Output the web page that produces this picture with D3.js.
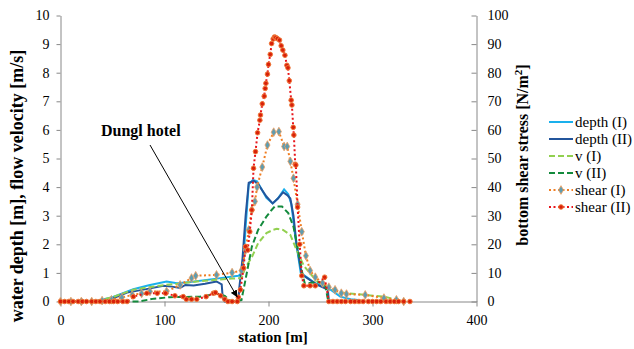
<!DOCTYPE html>
<html>
<head>
<meta charset="utf-8">
<script src="https://cdnjs.cloudflare.com/ajax/libs/d3/7.8.5/d3.min.js"></script>
<style>
  body { margin: 0; background: #fff; }
  svg, svg text { font-family: "Liberation Serif", "DejaVu Serif", serif; fill: #000; }
  .axis path, .axis line { stroke: #888; }
  .axis text { font-size: 14px; }
  .title { font-size: 15px; font-weight: bold; }
  .legend text { font-size: 15px; }
</style>
</head>
<body>
<svg id="chart" width="634" height="349" font-family="Liberation Serif"></svg>
<script>
// [station m, value] pairs
var depth1 = [[0,0],[20,0],[35,0.02],[50,0.15],[70,0.43],[85,0.57],[102,0.7],[112,0.64],[125,0.68],[150,0.8],[171,0.9],[175,1.0],[178,2.6],[181,4.1],[185,4.25],[189,4.2],[193,3.95],[198,3.62],[204,3.43],[209,3.6],[215,3.92],[219,3.75],[222,3.4],[226,2.2],[231,1.0],[245,0.64],[259,0.43],[269,0.17],[279,0.08],[286,0.05]];
var depth2 = [[0,0],[35,0],[50,0.1],[64,0.31],[85,0.45],[99,0.55],[107,0.52],[115,0.47],[120,0.58],[128,0.56],[139,0.62],[150,0.7],[155,0.6],[156,0.12],[158,0],[171,0],[172,0.5],[175,1.5],[178,3.0],[181,4.15],[186,4.22],[190,4.1],[198,3.67],[204,3.43],[209,3.6],[214,3.82],[218,3.72],[221,3.6],[224,3.0],[227,2.0],[232,0.95],[246,0.6],[257,0.42],[258,0.05],[259,0]];
var v1 = [[0,0],[30,0],[35,0.02],[50,0.15],[70,0.41],[85,0.5],[101,0.58],[118,0.64],[131,0.7],[150,0.76],[165,0.8],[174,0.82],[178,1.2],[184,1.55],[190,2.04],[198,2.39],[204,2.5],[208,2.54],[214,2.5],[221,2.33],[227,1.8],[234,1.25],[240,0.98],[247,0.7],[258,0.47],[266,0.35],[275,0.29],[293,0.23],[311,0.17],[324,0.06],[330,0]];
var v2 = [[0,0],[75,0],[90,0.1],[105,0.15],[134,0.17],[147,0.25],[150,0.28],[158,0.2],[162,0.05],[165,0],[174,0.05],[177,0.6],[181,1.35],[184,1.92],[190,2.5],[198,2.97],[203,3.2],[206,3.32],[213,3.32],[219,3.09],[224,2.62],[229,1.69],[233,0.9],[235,0.62],[245,0.68],[254,0.66],[257,0.1],[258,0]];
// shear in N/m2 (right axis)
var shear1 = [[0,0],[10,0],[20,0],[30,0],[40,0.3],[49,0.6],[59,1.4],[69,2.3],[78,2.8],[86,3.5],[102,3.5],[115,5.8],[126,8.2],[130,9.0],[150,9.3],[165,10.1],[174,10.8],[178,18],[181,25],[184,32],[187,35],[189,40],[194,47],[199,54.7],[205,59.2],[210,59.4],[215,54.2],[218,54.2],[221,49],[224,43.1],[228,34],[232,24.4],[236,16],[240,10.8],[245,8.5],[252,6.5],[258,5],[264,4.1],[270,2.9],[275,2.6],[293,2.3],[311,1.2],[323,0.6],[330,0]];
var shear2 = [[0,0],[4,0],[8,0],[12,0],[17,0],[21,0],[25,0],[30,0],[34,0],[38,0],[43,0],[47,0],[51,0],[55,0],[60,0],[64,0],[70,1.7],[83,2.9],[93,2.9],[101,2.9],[110,2.0],[118,1.7],[121,0.8],[126,0.8],[131,0.8],[140,1.7],[147,2.9],[149,3.1],[154,2.0],[158,0.8],[161,0],[165,0],[170,0],[171,1.5],[173,4.1],[176,11.7],[178,19.2],[180,18],[182,24.4],[184,32],[185.6,46.6],[187.5,52.4],[189.5,59],[191.7,63.4],[192.3,65.2],[194,69.1],[195.9,71.8],[196.8,74.5],[197.5,76.3],[199,79.5],[200,82.9],[201.7,86.4],[203,90.2],[204.5,91.8],[205.8,92.5],[207,92.3],[208.5,91.9],[210.6,91.4],[212.2,89.4],[213.8,87.9],[215.8,86.1],[217.7,82.6],[218.7,81.7],[220,77.2],[221.8,70.4],[222.5,68.7],[223.8,60.9],[224.4,58.2],[225.7,48],[226.3,47.7],[228,33],[230,20],[232,9],[234,5.5],[240,5.5],[245,5.5],[254,8.5],[258,0],[262,0],[266,0],[270,0],[274,0],[279,0],[283,0],[287,0],[291,0],[296,0],[300,0],[304,0],[308,0],[313,0],[317,0],[321,0],[325,0],[330,0],[336,0]];

var xTicks = [0,100,200,300,400];
var series = [
  {name:"depth (I)", data:depth1, color:"#1ab0ec", dash:null, width:2, axis:"L"},
  {name:"depth (II)", data:depth2, color:"#23559c", dash:null, width:2, axis:"L"},
  {name:"v (I)", data:v1, color:"#92d050", dash:"6,3", width:2, axis:"L"},
  {name:"v (II)", data:v2, color:"#138a3c", dash:"6,3", width:2, axis:"L"},
  {name:"shear (I)", data:shear1, color:"#f07d21", dash:"2,2.5", width:2, axis:"R", marker:"diamond"},
  {name:"shear (II)", data:shear2, color:"#e8141a", dash:"2,2.5", width:2, axis:"R", marker:"circle"}
];

var FONT = "Liberation Serif, DejaVu Serif, serif";
var svg = d3.select("#chart");
var x = d3.scaleLinear().domain([0,400]).range([60.5,476.5]);
var yL = d3.scaleLinear().domain([0,10]).range([301.5,15.5]);
var yR = d3.scaleLinear().domain([0,100]).range([301.5,15.5]);

// axes
svg.append("g").attr("class","axis").attr("transform","translate(0,301.5)")
  .call(d3.axisBottom(x).tickValues(xTicks).tickSizeInner(5).tickSizeOuter(0).tickPadding(9))
  .attr("font-family", FONT).attr("font-size", 14);
svg.append("g").attr("class","axis").attr("transform","translate(60.5,0)")
  .call(d3.axisLeft(yL).ticks(10).tickSizeInner(4).tickSizeOuter(0).tickPadding(7))
  .attr("font-family", FONT).attr("font-size", 14);
svg.append("g").attr("class","axis").attr("transform","translate(476.5,0)")
  .call(d3.axisRight(yR).ticks(10).tickSizeInner(-5).tickSizeOuter(0).tickPadding(11))
  .attr("font-family", FONT).attr("font-size", 14);

// axis titles
svg.append("text").attr("class","title").attr("text-anchor","middle")
  .attr("x",273).attr("y",342).text("station [m]");
svg.append("text").attr("class","title").attr("text-anchor","middle")
  .style("font-size","18px")
  .attr("transform","translate(23,186) rotate(-90)")
  .text("water depth [m], flow velocity [m/s]");
var rt = svg.append("text").attr("class","title").attr("text-anchor","middle")
  .style("font-size","16px")
  .attr("transform","translate(528,155) rotate(-90)");
rt.append("tspan").text("bottom shear stress [N/m");
rt.append("tspan").attr("dy",-6).style("font-size","11px").text("2");
rt.append("tspan").attr("dy",6).text("]");

// lines
series.forEach(function(s){
  var yy = s.axis == "L" ? yL : yR;
  var line = d3.line().x(d => x(d[0])).y(d => yy(d[1]));
  svg.append("path").datum(s.data)
    .attr("d", line)
    .attr("fill","none")
    .attr("stroke", s.color)
    .attr("stroke-width", s.width)
    .attr("stroke-dasharray", s.dash);
  if (s.marker) drawMarkers(svg, s.data.map(d => [x(d[0]), yy(d[1])]), s.marker);
});

function drawMarkers(g, pts, kind){
  if (kind == "diamond") {
    g.append("g").selectAll("path").data(pts).enter().append("path")
      .attr("d", d3.symbol().type(d3.symbolDiamond).size(22))
      .attr("transform", d => "translate(" + d[0] + "," + d[1] + ")")
      .attr("fill","#5f9cb0").attr("stroke","#f0a060").attr("stroke-width",0.8);
  } else {
    g.append("g").selectAll("circle").data(pts).enter().append("circle")
      .attr("cx", d => d[0]).attr("cy", d => d[1]).attr("r",2.3)
      .attr("fill","#d8200a").attr("stroke","#f07a3a").attr("stroke-width",1);
  }
}

// annotation
svg.append("defs").append("marker").attr("id","arr")
  .attr("viewBox","0 0 10 10").attr("refX",10).attr("refY",5)
  .attr("markerWidth",7).attr("markerHeight",7).attr("orient","auto")
  .append("path").attr("d","M0,0L10,5L0,10z").attr("fill","#000");
svg.append("line").attr("x1",150).attr("y1",145).attr("x2",x(170)).attr("y2",yL(0.15))
  .attr("stroke","#000").attr("stroke-width",1).attr("marker-end","url(#arr)");
svg.append("text").attr("class","title").style("font-size","16px")
  .attr("x",101).attr("y",136).text("Dungl hotel");

// legend
var lg = svg.append("g").attr("class","legend");
series.forEach(function(s, i){
  var cy = 122 + i * 17;
  lg.append("line").attr("x1",549).attr("x2",573).attr("y1",cy).attr("y2",cy)
    .attr("stroke", s.color).attr("stroke-width",2).attr("stroke-dasharray", s.dash);
  if (s.marker) drawMarkers(lg, [[561, cy]], s.marker);
  lg.append("text").attr("x",575).attr("y",cy + 5).text(s.name);
});
</script>
</body>
</html>
